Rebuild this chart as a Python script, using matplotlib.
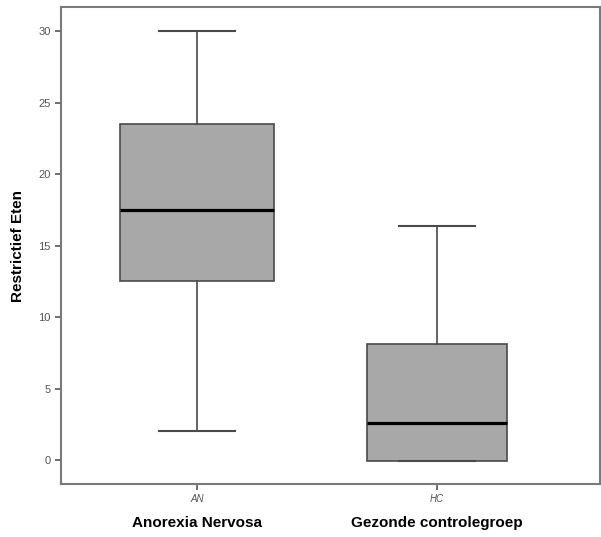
import numpy as np
import matplotlib
matplotlib.use("Agg")
import matplotlib.pyplot as plt

plt.rcParams["font.family"] = ["Liberation Sans", "DejaVu Sans"]

# data (five-number summaries)
groups = ["AN", "HC"]
group_names = ["Anorexia Nervosa", "Gezonde controlegroep"]
whisker_low = [2.0, -0.1]
q1 = [12.5, -0.1]
median = [17.5, 2.6]
q3 = [23.5, 8.1]
whisker_high = [30.0, 16.4]
yticks = [0, 5, 10, 15, 20, 25, 30]

stats = []
for i, g in enumerate(groups):
    stats.append({
        "label": g,
        "whislo": whisker_low[i],
        "q1": q1[i],
        "med": median[i],
        "q3": q3[i],
        "whishi": whisker_high[i],
        "fliers": [],
    })

fig = plt.figure(figsize=(6.01, 5.37), dpi=100)
ax = fig.add_axes([0.1015, 0.0987, 0.897, 0.888])

pos = [1, 2]
ax.bxp(stats, positions=pos, widths=[0.64, 0.58], patch_artist=True,
       showfliers=False,
       boxprops=dict(facecolor="#a8a8a8", edgecolor="#4a4a4a", linewidth=1.2),
       medianprops=dict(color="black", linewidth=2.3),
       whiskerprops=dict(color="#4a4a4a", linewidth=1.2),
       capprops=dict(color="#4a4a4a", linewidth=1.5),
       capwidths=0.32)

ax.set_xlim(0.433, 2.68)
ax.set_ylim(-1.68, 31.68)
ax.set_yticks(yticks)
ax.set_xticks(pos)
ax.set_xticklabels(groups, style="italic", fontsize=7, color="#555555")
ax.tick_params(axis="y", labelsize=8, colors="#555555", length=4, width=1.2)
ax.tick_params(axis="x", length=4, width=1.2, colors="#555555")

for s in ax.spines.values():
    s.set_color("#7a7a7a")
    s.set_linewidth(1.5)

ax.set_ylabel("Restrictief Eten", fontsize=11, fontweight="bold")
ax.yaxis.set_label_coords(-0.066, 0.5)

# group names under the tick labels
for p, name in zip(pos, group_names):
    ax.text(p, -0.068, name, transform=ax.get_xaxis_transform(),
            ha="center", va="top", fontsize=11, fontweight="bold")

fig.savefig("out.png", dpi=100)
